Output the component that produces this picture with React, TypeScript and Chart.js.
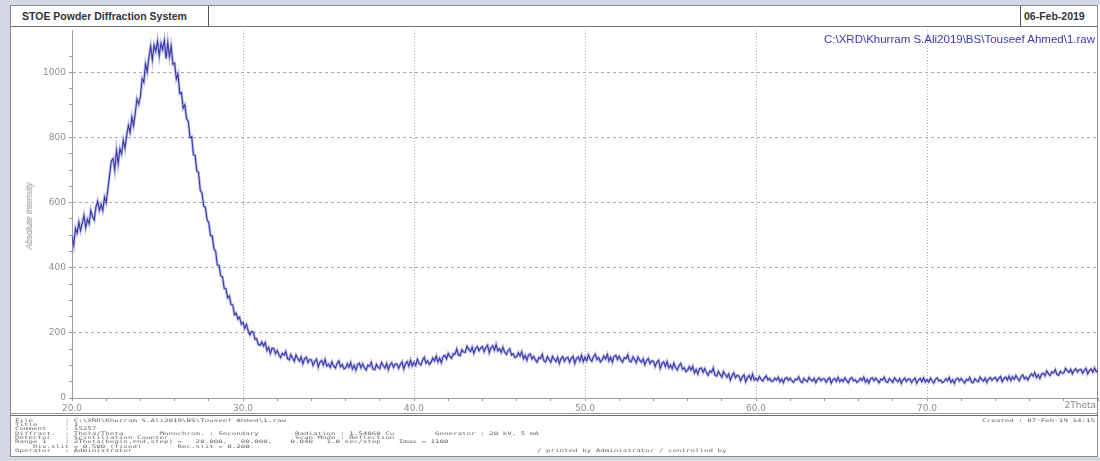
import { useEffect, useRef } from 'react';
import { Chart, registerables } from 'chart.js';

Chart.register(...registerables);

// Scan parameters (degrees 2Theta)
const scanStart = 20.0;
const scanStep = 0.1;
const scanEnd = 80.0;

// Measured counts, one row per degree (20.0 ... 79.9), final point at 80.0
const intensity: number[] = [
  496, 469, 520, 506, 540, 514, 537, 560, 523, 549,
  535, 576, 557, 546, 586, 604, 576, 594, 576, 617,
  600, 643, 685, 728, 735, 700, 760, 720, 765, 750,
  790, 767, 808, 837, 815, 862, 837, 875, 918, 903,
  925, 980, 970, 1025, 1002, 1048, 1080, 1038, 1083, 1065,
  1095, 1051, 1089, 1070, 1098, 1042, 1091, 1048, 1080, 1025,
  1028, 980, 994, 935, 938, 890, 900, 857, 850, 800,
  802, 747, 745, 698, 692, 638, 630, 590, 585, 547,
  538, 498, 498, 458, 451, 408, 407, 375, 372, 337,
  336, 308, 313, 287, 286, 256, 261, 242, 248, 227,
  232, 214, 226, 207, 194, 204, 203, 181, 182, 164,
  162, 172, 160, 170, 146, 155, 137, 153, 152, 136,
  146, 133, 124, 137, 132, 143, 121, 117, 133, 122,
  113, 132, 122, 113, 126, 105, 120, 125, 109, 118,
  117, 100, 113, 119, 95, 110, 115, 101, 118, 98,
  104, 94, 111, 98, 92, 106, 114, 96, 103, 90,
  92, 105, 95, 109, 89, 100, 85, 103, 107, 93,
  105, 93, 86, 101, 97, 110, 89, 87, 103, 94,
  90, 109, 100, 92, 106, 87, 102, 108, 94, 104,
  105, 91, 103, 111, 89, 105, 112, 98, 116, 99,
  109, 100, 119, 106, 101, 116, 125, 107, 114, 103,
  110, 123, 114, 129, 111, 122, 108, 127, 131, 120,
  137, 128, 122, 136, 135, 150, 132, 130, 148, 141,
  140, 159, 150, 143, 156, 137, 152, 158, 145, 153,
  158, 142, 155, 162, 139, 154, 160, 147, 164, 145,
  151, 140, 156, 141, 134, 146, 151, 132, 136, 124,
  127, 139, 129, 142, 121, 131, 116, 132, 135, 120,
  128, 117, 110, 124, 121, 134, 114, 111, 127, 118,
  110, 128, 119, 112, 125, 106, 121, 127, 113, 122,
  125, 110, 122, 128, 106, 121, 126, 114, 131, 112,
  125, 115, 132, 119, 113, 127, 135, 118, 124, 111,
  117, 129, 120, 134, 114, 125, 110, 128, 131, 118,
  128, 117, 110, 124, 121, 133, 113, 111, 126, 118,
  108, 126, 116, 110, 120, 102, 115, 121, 106, 114,
  113, 97, 110, 116, 91, 106, 111, 97, 112, 93,
  101, 90, 107, 93, 86, 99, 106, 88, 93, 81,
  85, 96, 86, 97, 77, 87, 74, 90, 92, 79,
  90, 78, 70, 83, 79, 92, 71, 67, 82, 72,
  64, 81, 72, 64, 74, 55, 68, 77, 62, 70,
  67, 53, 65, 71, 50, 63, 69, 57, 73, 55,
  61, 54, 66, 57, 52, 62, 68, 55, 60, 51,
  52, 61, 55, 64, 50, 58, 47, 60, 63, 54,
  61, 53, 48, 58, 56, 65, 51, 47, 60, 54,
  50, 63, 56, 52, 60, 47, 57, 62, 53, 59,
  59, 48, 57, 62, 46, 56, 60, 51, 63, 50,
  57, 51, 62, 54, 47, 59, 63, 53, 56, 48,
  52, 60, 54, 64, 49, 57, 46, 59, 62, 53,
  61, 54, 47, 58, 55, 64, 50, 48, 60, 54,
  48, 62, 55, 50, 59, 45, 56, 61, 51, 58,
  58, 47, 56, 61, 45, 55, 60, 50, 62, 49,
  56, 49, 61, 53, 46, 58, 62, 52, 55, 47,
  51, 59, 53, 63, 48, 56, 45, 58, 61, 52,
  60, 53, 46, 57, 54, 63, 49, 47, 59, 53,
  50, 64, 57, 52, 61, 48, 58, 63, 54, 60,
  63, 52, 61, 66, 50, 60, 64, 55, 67, 54,
  65, 57, 69, 60, 53, 66, 71, 59, 64, 55,
  66, 74, 67, 78, 63, 71, 60, 73, 76, 68,
  83, 75, 69, 80, 77, 87, 72, 70, 82, 76,
  77, 91, 84, 79, 88, 75, 85, 90, 80, 87,
  88, 76, 85, 91, 74, 84, 89, 79, 92, 81,
  84,
];

// Axis tick labels
const xMajorTicks = [20, 30, 40, 50, 60, 70];
const yMajorTicks = [0, 200, 400, 600, 800, 1000];
const yMax = 1130;

// Header / footer texts
const systemTitle = 'STOE Powder Diffraction System';
const printDate = '06-Feb-2019';
const rawFile = 'C:\\XRD\\Khurram S.Ali2019\\BS\\Touseef Ahmed\\1.raw';
const xAxisName = '2Theta';
const yAxisName = 'Absolute Intensity';
const footerLines = [
  'File       : C:\\XRD\\Khurram S.Ali2019\\BS\\Touseef Ahmed\\1.raw',
  'Title      : 1',
  'Comment    : 15257',
  'Diffract.  : Theta/Theta        Monochrom. : Secondary        Radiation : 1.54060 Cu         Generator : 20 kV, 5 mA',
  'Detector   : Scintillation Counter                            Scan Mode : Reflection',
  'Range 1    : 2Theta(begin,end,step) =   20.000,   80.000,    0.040   1.0 sec/step    Imax = 1100',
  '    Div.slit = 0.500 (fixed)        Rec.slit = 0.200',
  'Operator   : Administrator',
];
const createdLine = 'Created : 07-Feb-19 14:15';
const printedLine = '/ printed by Administrator / controlled by';

const chrome = '#d3d8e4';
const frameGray = '#8a8a8a';
const tickGray = '#8e8e8e';
const gridGray = '#ababab';
const clear = 'rgba(0,0,0,0)';

const near = (v: number, list: number[]) => list.some((t) => Math.abs(v - t) < 1e-6);

export default function App() {
  const canvasRef = useRef<HTMLCanvasElement>(null);

  useEffect(() => {
    document.body.style.margin = '0';
    const points = intensity.map((v, i) => ({ x: Math.round((scanStart + i * scanStep) * 100) / 100, y: v }));

    const chart = new Chart(canvasRef.current!, {
      type: 'line',
      data: {
        datasets: [
          {
            data: points,
            borderColor: 'rgba(96,96,210,0.42)',
            borderWidth: 2.8,
            pointRadius: 0,
            tension: 0,
          },
          {
            data: points,
            borderColor: '#1e1e86',
            borderWidth: 1.1,
            pointRadius: 0,
            tension: 0,
          },
        ],
      },
      options: {
        responsive: false,
        animation: false,
        devicePixelRatio: 1,
        layout: { padding: { top: 30, left: 0, right: 1, bottom: 0 } },
        plugins: { legend: { display: false }, tooltip: { enabled: false } },
        scales: {
          x: {
            type: 'linear',
            min: scanStart,
            max: scanEnd,
            afterFit: (s: any) => {
              s.height = 63;
            },
            ticks: {
              stepSize: 2,
              autoSkip: false,
              maxRotation: 0,
              padding: 2,
              color: tickGray,
              font: { family: '"DejaVu Sans"', size: 9 },
              callback: (v: any) => (near(Number(v), xMajorTicks) ? Number(v).toFixed(1) : ''),
            },
            grid: {
              color: (c: any) =>
                c.tick && c.tick.value > scanStart && near(c.tick.value, xMajorTicks) ? gridGray : clear,
              tickColor: '#9c9c9c',
              tickLength: 3,
              lineWidth: 1,
            },
            border: { color: '#9c9c9c', dash: [1, 2] },
          },
          y: {
            min: 0,
            max: yMax,
            afterFit: (s: any) => {
              s.width = 72;
            },
            ticks: {
              stepSize: 50,
              autoSkip: false,
              padding: 3,
              color: tickGray,
              font: { family: '"DejaVu Sans"', size: 9 },
              callback: (v: any) => (near(Number(v), yMajorTicks) ? String(v) : ''),
            },
            grid: {
              color: (c: any) =>
                c.tick && c.tick.value > 0 && near(c.tick.value, yMajorTicks) ? gridGray : clear,
              tickColor: (c: any) => (c.tick && c.tick.value % 50 === 0 ? '#9c9c9c' : clear),
              tickLength: 3,
              lineWidth: 1,
            },
            border: { color: '#9c9c9c', dash: [3, 3] },
          },
        },
      },
    });
    return () => chart.destroy();
  }, []);

  const abs = (s: any) => ({ position: 'absolute' as const, ...s });
  const boxText = {
    fontWeight: 700,
    fontSize: 10.5,
    color: '#333',
    lineHeight: '21px',
    whiteSpace: 'nowrap' as const,
  };
  const mono = {
    fontFamily: '"DejaVu Sans Mono", monospace',
    fontSize: 7.5,
    lineHeight: '7px',
    color: '#666',
    whiteSpace: 'pre' as const,
    transform: 'scaleY(0.62)',
    transformOrigin: 'top left',
  };

  return (
    <div
      style={{
        position: 'fixed',
        left: 0,
        top: 0,
        width: 1100,
        height: 461,
        overflow: 'hidden',
        background: '#fff',
        fontFamily: '"Liberation Sans", Arial, sans-serif',
      }}
    >
      {/* window chrome */}
      <div style={abs({ left: 0, top: 0, width: 1100, height: 5, background: chrome })} />
      <div style={abs({ left: 0, top: 0, width: 10, height: 461, background: chrome })} />
      <div style={abs({ left: 0, top: 457, width: 1100, height: 4, background: chrome })} />
      <div style={abs({ left: 10, top: 5, width: 1088, height: 452, border: `1px solid ${frameGray}`, boxSizing: 'border-box' })} />

      {/* header row */}
      <div style={abs({ left: 10, top: 6, width: 199, height: 21, borderRight: '1px solid #555', borderBottom: '1px solid #777', boxSizing: 'border-box', paddingLeft: 12, ...boxText })}>
        {systemTitle}
      </div>
      <div style={abs({ left: 209, top: 6, width: 812, height: 21, borderBottom: '1px solid #777', boxSizing: 'border-box' })} />
      <div style={abs({ left: 1020, top: 6, width: 78, height: 21, borderLeft: '1px solid #555', borderBottom: '1px solid #777', boxSizing: 'border-box', paddingLeft: 3, ...boxText })}>
        {printDate}
      </div>

      {/* footer separator */}
      <div style={abs({ left: 10, top: 413, width: 1088, height: 1, background: '#9a9a9a' })} />
      <div style={abs({ left: 10, top: 415, width: 1088, height: 1, background: '#6e6e6e' })} />

      <canvas ref={canvasRef} width={1100} height={461} style={abs({ left: 0, top: 0 })} />

      {/* plot annotations */}
      <div style={abs({ right: 5, top: 33, fontSize: 11.5, color: '#3a3ab0', whiteSpace: 'nowrap' })}>{rawFile}</div>
      <div style={abs({ right: 4, top: 400, fontFamily: '"DejaVu Sans"', fontSize: 9, color: tickGray })}>{xAxisName}</div>
      <div
        style={abs({
          left: 29,
          top: 216,
          fontSize: 8.5,
          fontStyle: 'italic',
          color: '#8a8a8a',
          whiteSpace: 'nowrap',
          transform: 'translate(-50%, -50%) rotate(-90deg)',
        })}
      >
        {yAxisName}
      </div>

      {/* footer texts */}
      <div style={abs({ left: 15, top: 418, ...mono })}>{footerLines.join('\n')}</div>
      <div style={abs({ right: 5, top: 418, ...mono, transformOrigin: 'top right' })}>{createdLine}</div>
      <div style={abs({ left: 537, top: 448.4, ...mono })}>{printedLine}</div>
    </div>
  );
}
